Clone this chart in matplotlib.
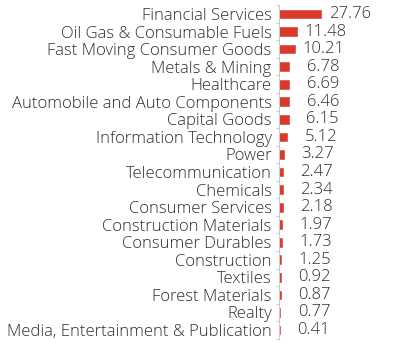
import matplotlib
matplotlib.use("Agg")
import matplotlib.pyplot as plt
from matplotlib.ticker import FixedLocator

categories = ["Financial Services", "Oil Gas & Consumable Fuels", "Fast Moving Consumer Goods",
              "Metals & Mining", "Healthcare", "Automobile and Auto Components", "Capital Goods",
              "Information Technology", "Power", "Telecommunication", "Chemicals",
              "Consumer Services", "Construction Materials", "Consumer Durables", "Construction",
              "Textiles", "Forest Materials", "Realty", "Media, Entertainment & Publication"]
values = [27.76, 11.48, 10.21, 6.78, 6.69, 6.46, 6.15, 5.12, 3.27, 2.47, 2.34, 2.18, 1.97,
          1.73, 1.25, 0.92, 0.87, 0.77, 0.41]

FONT = ["Open Sans", "DejaVu Sans"]
plt.rcParams['font.family'] = FONT

fig = plt.figure(figsize=(3.93, 3.43), dpi=100)
ax = fig.add_axes([0.7107, 0.0122, 0.2893, 0.9726])

n = len(categories)
ypos = list(range(n))
ax.barh(ypos, values, height=0.5, color="#d9382a", edgecolor="#d9382a", linewidth=0.4, left=0)
ax.set_ylim(n - 0.5, -0.5)
ax.set_xlim(0, 75.8)

ax.set_yticks(ypos)
ax.set_yticklabels(categories, fontsize=12, color="#2e2e2e", fontweight="light")
ax.tick_params(axis='y', which='major', length=0, pad=5.5)
ax.yaxis.set_minor_locator(FixedLocator([i + 0.5 for i in range(-1, n)]))
ax.tick_params(axis='y', which='minor', length=2.5, color="#cccccc", width=0.8)
ax.set_xticks([])

for s in ["top", "right", "bottom"]:
    ax.spines[s].set_visible(False)
ax.spines["left"].set_color("#cccccc")
ax.spines["left"].set_linewidth(0.8)

for y, v in zip(ypos, values):
    ax.annotate(f"{v:.2f}", xy=(v, y), xytext=(50, 0), textcoords="offset pixels",
                ha="right", va="center", fontsize=12, color="#2e2e2e", fontweight="light")

fig.savefig("out.png", dpi=100)
